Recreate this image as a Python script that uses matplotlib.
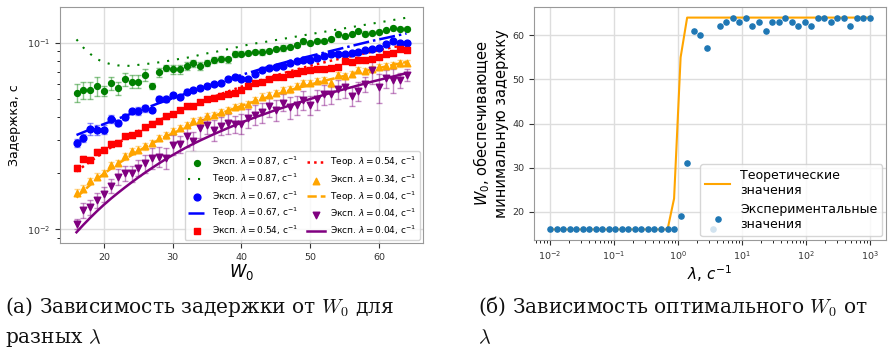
import matplotlib
matplotlib.use("Agg")
import matplotlib.pyplot as plt
import numpy as np

# ---- left panel: delay vs W0 ----
w0 = np.arange(16, 65)

green_exp = [0.0540, 0.0558, 0.0558, 0.0586, 0.0551, 0.0605, 0.0569, 0.0638, 0.0618, 0.0618,
             0.0670, 0.0586, 0.0692, 0.0733, 0.0721, 0.0721, 0.0751, 0.0773, 0.0751, 0.0780,
             0.0805, 0.0815, 0.0812, 0.0867, 0.0874, 0.0881, 0.0892, 0.0892, 0.0903, 0.0922,
             0.0937, 0.0948, 0.0968, 0.1017, 0.1000, 0.1017, 0.1021, 0.1042, 0.1107, 0.1085,
             0.1107, 0.1149, 0.1117, 0.1130, 0.1140, 0.1164, 0.1202, 0.1187, 0.1187]
green_err = [0.0058, 0.006, 0.006, 0.007, 0.0035, 0.005, 0.0045, 0.005, 0.005, 0.005,
             0.005, 0.0025, 0.0035, 0.003, 0.004, 0.004, 0.0035, 0.0035, 0.0035, 0.003,
             0.003, 0.003, 0.003, 0.003, 0.003, 0.0025, 0.0025, 0.003, 0.0025, 0.0025,
             0.003, 0.0025, 0.0025, 0.003, 0.0025, 0.0025, 0.003, 0.0025, 0.003, 0.003,
             0.0025, 0.0025, 0.003, 0.0025, 0.003, 0.0025, 0.003, 0.0025, 0.0025]
green_th = [0.1040, 0.0940, 0.0870, 0.0815, 0.0785, 0.0766, 0.0755, 0.0751, 0.0751, 0.0760,
            0.0768, 0.0774, 0.0784, 0.0794, 0.0806, 0.0818, 0.0829, 0.0842, 0.0861, 0.0876,
            0.0888, 0.0905, 0.0922, 0.0938, 0.0957, 0.0975, 0.0990, 0.1002, 0.1017, 0.1032,
            0.1047, 0.1062, 0.1078, 0.1094, 0.1110, 0.1126, 0.1142, 0.1159, 0.1176, 0.1193,
            0.1210, 0.1228, 0.1246, 0.1264, 0.1282, 0.1301, 0.1320, 0.1340, 0.1359]

blue_exp = [0.0290, 0.0309, 0.0345, 0.0342, 0.0342, 0.0391, 0.0371, 0.0399, 0.0428, 0.0431,
            0.0446, 0.0433, 0.0499, 0.0499, 0.0525, 0.0510, 0.0547, 0.0558, 0.0569, 0.0586,
            0.0600, 0.0605, 0.0638, 0.0651, 0.0638, 0.0638, 0.0676, 0.0713, 0.0727, 0.0743,
            0.0751, 0.0773, 0.0796, 0.0805, 0.0805, 0.0822, 0.0846, 0.0867, 0.0874, 0.0874,
            0.0885, 0.0892, 0.0910, 0.0929, 0.0941, 0.0988, 0.1021, 0.0998, 0.1000]
blue_err = [0.0015, 0.0015, 0.0025, 0.0022, 0.0020, 0.0020, 0.0015, 0.0015, 0.0015, 0.0020,
            0.0020, 0.0010, 0.0020, 0.0020, 0.0015, 0.0012, 0.0015, 0.0015, 0.0015, 0.0015,
            0.0015, 0.0015, 0.0015, 0.0015, 0.0015, 0.0015, 0.0015, 0.0015, 0.0015, 0.0015,
            0.0015, 0.0015, 0.0015, 0.0015, 0.0015, 0.0015, 0.0015, 0.0015, 0.0015, 0.0015,
            0.0015, 0.0015, 0.0015, 0.0015, 0.0015, 0.0015, 0.0015, 0.0015, 0.0015]
blue_th = [0.03199, 0.03311, 0.03428, 0.03548, 0.03664, 0.03784, 0.03908, 0.04036, 0.04169, 0.04305,
           0.04446, 0.04592, 0.04742, 0.04887, 0.05035, 0.05188, 0.05346, 0.05508, 0.05675, 0.05848,
           0.06012, 0.06180, 0.06353, 0.06531, 0.06714, 0.06887, 0.07063, 0.07244, 0.07430, 0.07603,
           0.07780, 0.07962, 0.08128, 0.08299, 0.08472, 0.08650, 0.08831, 0.09016, 0.09204, 0.09397,
           0.09594, 0.09795, 0.1000, 0.1021, 0.1040, 0.1059, 0.1079, 0.1099, 0.1119]

red_exp = [0.0212, 0.0239, 0.0236, 0.0259, 0.0267, 0.0288, 0.0290, 0.0315, 0.0318, 0.0328,
           0.0352, 0.0368, 0.0379, 0.0403, 0.0414, 0.0437, 0.0455, 0.0455, 0.0480, 0.0500,
           0.0508, 0.0520, 0.0529, 0.0540, 0.0558, 0.0586, 0.0610, 0.0618, 0.0638, 0.0651,
           0.0655, 0.0676, 0.0684, 0.0705, 0.0713, 0.0722, 0.0722, 0.0735, 0.0743, 0.0796,
           0.0792, 0.0808, 0.0808, 0.0815, 0.0839, 0.0867, 0.0881, 0.0929, 0.0910]
red_err = [0.0008, 0.0008, 0.0008, 0.0009, 0.0009, 0.0009, 0.0010, 0.0010, 0.0010, 0.0010,
           0.0011, 0.0011, 0.0011, 0.0012, 0.0012, 0.0012, 0.0013, 0.0013, 0.0013, 0.0013,
           0.0014, 0.0014, 0.0014, 0.0014, 0.0015, 0.0015, 0.0015, 0.0015, 0.0016, 0.0016,
           0.0016, 0.0016, 0.0017, 0.0017, 0.0017, 0.0017, 0.0018, 0.0018, 0.0018, 0.0018,
           0.0019, 0.0019, 0.0019, 0.0019, 0.0020, 0.0020, 0.0020, 0.0020, 0.0021]
red_th = [0.02042, 0.02173, 0.02307, 0.02449, 0.02594, 0.02742, 0.02891, 0.03041, 0.03199, 0.03357,
          0.03516, 0.03673, 0.03837, 0.03999, 0.04159, 0.04315, 0.04477, 0.04634, 0.04797, 0.04966,
          0.05129, 0.05297, 0.05470, 0.05636, 0.05807, 0.05984, 0.06152, 0.06324, 0.06501, 0.06668,
          0.06839, 0.07015, 0.07178, 0.07345, 0.07516, 0.07674, 0.07834, 0.07998, 0.08147, 0.08299,
          0.08453, 0.08610, 0.08770, 0.08933, 0.09099, 0.09268, 0.09441, 0.09594, 0.09750]

orange_exp = [0.01574, 0.01653, 0.01815, 0.01914, 0.0201, 0.0220, 0.0227, 0.0246, 0.0262, 0.0267,
              0.0278, 0.0290, 0.0309, 0.0318, 0.0335, 0.0349, 0.0363, 0.0382, 0.0383, 0.0403,
              0.0411, 0.0423, 0.0437, 0.0451, 0.0458, 0.0468, 0.0493, 0.0514, 0.0525, 0.0536,
              0.0558, 0.0562, 0.0586, 0.0605, 0.0610, 0.0622, 0.0631, 0.0610, 0.0670, 0.0662,
              0.0679, 0.0713, 0.0705, 0.0721, 0.0743, 0.0751, 0.0757, 0.0773, 0.0780]
orange_err = [0.0006, 0.0007, 0.0007, 0.0008, 0.0008, 0.0009, 0.0009, 0.0010, 0.0010, 0.0011,
              0.0011, 0.0012, 0.0012, 0.0013, 0.0013, 0.0014, 0.0014, 0.0015, 0.0015, 0.0016,
              0.0016, 0.0017, 0.0017, 0.0018, 0.0018, 0.0019, 0.0019, 0.0020, 0.0020, 0.0021,
              0.0021, 0.0022, 0.0022, 0.0023, 0.0023, 0.0024, 0.0024, 0.0030, 0.0025, 0.0025,
              0.0026, 0.0026, 0.0027, 0.0027, 0.0028, 0.0028, 0.0029, 0.0029, 0.0030]
orange_th = [0.01479, 0.01603, 0.01730, 0.01858, 0.01986, 0.02113, 0.02239, 0.02366, 0.02495, 0.02624,
             0.02754, 0.02884, 0.03013, 0.03141, 0.03266, 0.03396, 0.03524, 0.03656, 0.03784, 0.03917,
             0.04046, 0.04178, 0.04315, 0.04446, 0.04581, 0.04721, 0.04853, 0.04989, 0.05129, 0.05272,
             0.05408, 0.05546, 0.05689, 0.05821, 0.05957, 0.06095, 0.06237, 0.06368, 0.06501, 0.06637,
             0.06776, 0.06918, 0.07047, 0.07178, 0.07311, 0.07447, 0.07586, 0.07727, 0.07870]

purple_exp = [0.01068, 0.01267, 0.01309, 0.01438, 0.01542, 0.01706, 0.01914, 0.01995, 0.01995, 0.02138,
              0.02254, 0.02416, 0.02445, 0.02416, 0.02844, 0.02877, 0.03150, 0.02963, 0.03488, 0.03633,
              0.03418, 0.03589, 0.03707, 0.03661, 0.03679, 0.03945, 0.04106, 0.04226, 0.04550, 0.04366,
              0.04776, 0.04508, 0.04644, 0.04933, 0.04644, 0.04975, 0.05289, 0.05289, 0.05620, 0.05764,
              0.05182, 0.05534, 0.06004, 0.07128, 0.05764, 0.06434, 0.06302, 0.06302, 0.06700]
purple_err = [0.0007, 0.0012, 0.0012, 0.0013, 0.0015, 0.0015, 0.0018, 0.0018, 0.0020, 0.0020,
              0.0025, 0.0030, 0.0030, 0.0030, 0.0035, 0.0030, 0.0040, 0.0035, 0.0040, 0.0040,
              0.0045, 0.0040, 0.0045, 0.0040, 0.0045, 0.0045, 0.0050, 0.0050, 0.0055, 0.0055,
              0.0050, 0.0060, 0.0055, 0.0060, 0.0055, 0.0060, 0.0065, 0.0060, 0.0065, 0.0070,
              0.0060, 0.0065, 0.0055, 0.0110, 0.0100, 0.0070, 0.0090, 0.0060, 0.0050]
purple_th = [0.00964, 0.01057, 0.01153, 0.01253, 0.01355, 0.01459, 0.01563, 0.01671, 0.01782, 0.01897,
             0.02014, 0.02133, 0.02254, 0.02377, 0.02500, 0.02624, 0.02748, 0.02871, 0.02992, 0.03112,
             0.03236, 0.03357, 0.03483, 0.03606, 0.03733, 0.03855, 0.03981, 0.04102, 0.04227, 0.04355,
             0.04477, 0.04603, 0.04732, 0.04864, 0.04989, 0.05117, 0.05248, 0.05383, 0.05508, 0.05636,
             0.05768, 0.05902, 0.06039, 0.06180, 0.06310, 0.06442, 0.06577, 0.06714, 0.06855]

# ---- right panel: optimal W0 vs lambda ----
lam = np.logspace(-2, 3, 50)
w0_theory = [16] * 19 + [23, 55] + [64] * 29
w0_exper = ([16] * 20 + [19, 31, 61, 60, 57, 16, 62, 63, 64, 63, 64, 62, 63, 61, 63, 63, 64, 63,
                         62, 63, 62, 64, 64, 63, 64, 64, 62, 64, 64, 64])

plt.rcParams['font.family'] = 'DejaVu Sans'
fig = plt.figure(figsize=(8.93, 3.49), dpi=100)

ax1 = fig.add_axes([60/893, 106/349, 363/893, 236/349])
series = [
    (green_exp, green_err, green_th, 'green', 'o', 18, dict(ls=(0, (1, 3.8)), lw=1.5), '0.87', '0.87'),
    (blue_exp, blue_err, blue_th, 'blue', 'o', 24, dict(ls='-.', lw=1.8), '0.67', '0.67'),
    (red_exp, red_err, red_th, 'red', 's', 20, dict(ls=':', lw=1.8), '0.54', '0.54'),
    (orange_exp, orange_err, orange_th, 'orange', '^', 22, dict(ls='--', lw=1.8), '0.34', '0.04'),
    (purple_exp, purple_err, purple_th, 'purple', 'v', 22, dict(ls='-', lw=1.8), '0.04', '0.04'),
]
for i, (ye, er, yt, c, m, s, lst, le, lt) in enumerate(series):
    ax1.errorbar(w0, ye, yerr=er, fmt='none', ecolor=c, alpha=0.45, elinewidth=1, capsize=2.5)
    ax1.scatter(w0, ye, color=c, marker=m, s=s, zorder=3,
                label=r'Эксп. $\lambda = %s$, с$^{-1}$' % le)
    name = 'Эксп.' if i == 4 else 'Теор.'
    ax1.plot(w0, yt, color=c, label=r'%s $\lambda = %s$, с$^{-1}$' % (name, lt), **lst)

ax1.set_yscale('log')
ax1.grid(True, color='#dddddd', lw=1)
ax1.set_axisbelow(True)
ax1.set_ylabel('Задержка, с', fontsize=9)
ax1.set_xlabel('$W_0$', fontsize=12, labelpad=0)
ax1.tick_params(labelsize=6.8, colors='#333333')
for sp in ax1.spines.values():
    sp.set_color('#999999')
ax1.legend(ncol=2, fontsize=6.5, loc='lower right', labelspacing=0.35, columnspacing=1.0,
           handletextpad=0.6, borderaxespad=0.3)

ax2 = fig.add_axes([534/893, 109/349, 352/893, 233/349])
ax2.plot(lam, w0_theory, color='orange', lw=1.5, label='Теоретические\nзначения')
ax2.scatter(lam, w0_exper, color='#1f77b4', s=14, zorder=3, label='Экспериментальные\nзначения')
ax2.set_xscale('log')
ax2.grid(True, color='#dddddd', lw=1)
ax2.set_axisbelow(True)
ax2.set_ylabel('$W_0$, обеспечивающее\nминимальную задержку', fontsize=10.5, labelpad=2)
ax2.set_xlabel(r'$\lambda$, $c^{-1}$', fontsize=11, labelpad=1)
ax2.tick_params(labelsize=6.8, colors='#333333')
for sp in ax2.spines.values():
    sp.set_color('#999999')
ax2.legend(fontsize=9, loc='lower right', borderaxespad=0.3)

cap = dict(family='DejaVu Serif', fontsize=14.5, math_fontfamily='cm', va='baseline', color='#111111')
fig.text(5/893, 1 - 313/349, '(а) Зависимость задержки от $W_0$ для', **cap)
fig.text(5/893, 1 - 343/349, r'разных $\lambda$', **cap)
fig.text(478/893, 1 - 313/349, '(б) Зависимость оптимального $W_0$ от', **cap)
fig.text(478/893, 1 - 343/349, r'$\lambda$', **cap)

fig.savefig('out.png', dpi=100)
